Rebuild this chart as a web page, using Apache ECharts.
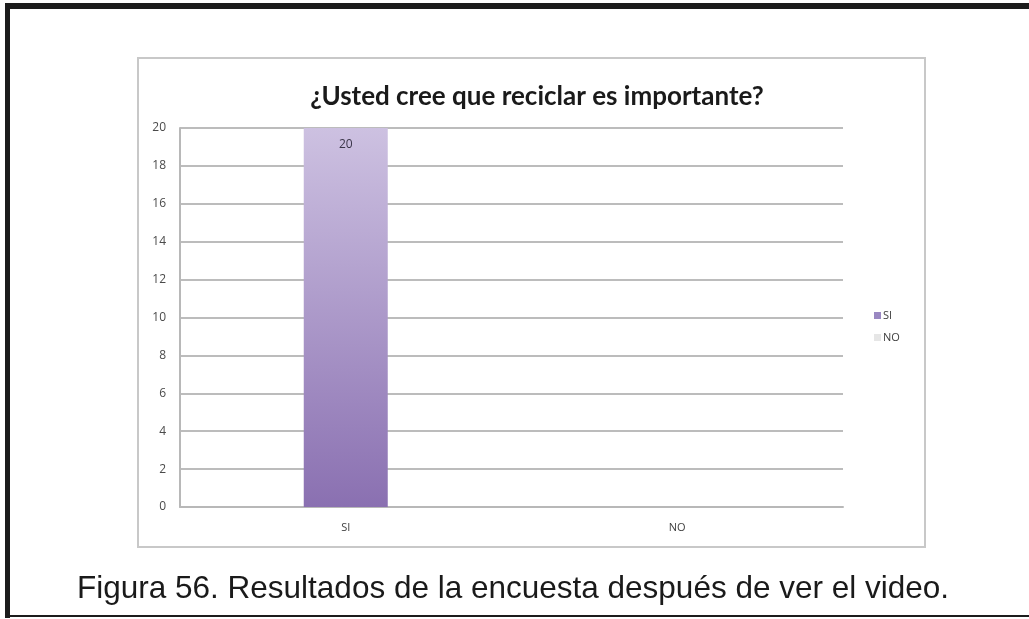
<!DOCTYPE html>
<html>
<head>
<meta charset="utf-8">
<script src="https://cdn.jsdelivr.net/npm/echarts@6/dist/echarts.min.js"></script>
<style>
html,body{margin:0;padding:0;background:#fff;}
#c{width:1029px;height:619px;}
</style>
</head>
<body>
<div id="c"></div>
<script>
var categories = ['SI', 'NO'];
var seriesNames = ['SI', 'NO'];
var siValues = [20, null];
var noValues = [null, 0];
var yTicks = [0, 2, 4, 6, 8, 10, 12, 14, 16, 18, 20];
var titleText = '¿Usted cree que reciclar es importante?';
var captionText = 'Figura 56. Resultados de la encuesta después de ver el video.';

var chart = echarts.init(document.getElementById('c'));
var grad = new echarts.graphic.LinearGradient(0, 0, 0, 1, [
  {offset: 0, color: '#cdc1e1'},
  {offset: 1, color: '#8a70b1'}
]);
chart.setOption({
  animation: false,
  backgroundColor: '#fff',
  title: {
    text: titleText,
    left: 532, top: 79, textAlign: 'center',
    textStyle: {fontFamily: 'Lato', fontWeight: 'bold', fontSize: 26, color: '#1a1a1a'}
  },
  legend: {
    orient: 'vertical', left: 869, top: 305, itemGap: 11,
    itemWidth: 7, itemHeight: 7, icon: 'rect',
    textStyle: {fontFamily: 'Open Sans', fontSize: 11, color: '#404040', padding: [0, 0, 0, -3]},
    data: [
      {name: seriesNames[0], itemStyle: {color: '#9a88c2'}},
      {name: seriesNames[1], itemStyle: {color: '#e6e6e6'}}
    ]
  },
  grid: {left: 180, right: 186, top: 128, bottom: 112},
  xAxis: {
    type: 'category', data: categories,
    axisLine: {lineStyle: {color: '#b8b8b8', width: 2}},
    axisTick: {show: false},
    axisLabel: {fontFamily: 'Open Sans', fontSize: 11, color: '#404040', margin: 15}
  },
  yAxis: {
    type: 'value', min: yTicks[0], max: yTicks[yTicks.length - 1], interval: 2,
    axisLine: {show: true, lineStyle: {color: '#b8b8b8', width: 2}},
    axisTick: {show: false},
    splitLine: {lineStyle: {color: '#bcbcbc', width: 2}},
    axisLabel: {fontFamily: 'Open Sans', fontSize: 12, color: '#4a4a4a', margin: 14}
  },
  series: [
    {
      name: seriesNames[0], type: 'bar', stack: 'a', data: siValues, barWidth: 84,
      itemStyle: {color: grad},
      label: {show: true, position: 'insideTop', distance: 11, fontFamily: 'Open Sans', fontSize: 12, color: '#3a3548'}
    },
    {
      name: seriesNames[1], type: 'bar', stack: 'a', data: noValues, barWidth: 84,
      itemStyle: {color: '#e6e6e6'},
      label: {show: false}
    }
  ],
  graphic: [
    {type: 'rect', shape: {x: 138, y: 58, width: 787, height: 489}, style: {fill: 'none', stroke: '#c8c8c8', lineWidth: 2}, z: -1},
    {type: 'rect', shape: {x: 5, y: 3, width: 1024, height: 6}, style: {fill: '#1c1c1c'}},
    {type: 'rect', shape: {x: 5, y: 3, width: 5, height: 615}, style: {fill: '#1c1c1c'}},
    {type: 'rect', shape: {x: 5, y: 615, width: 1024, height: 2}, style: {fill: '#1c1c1c'}},
    {type: 'text', x: 513, y: 589, style: {text: captionText, fontFamily: 'Liberation Sans', fontSize: 31.5, fill: '#1a1a1a', textAlign: 'center', textVerticalAlign: 'middle'}}
  ]
});
</script>
</body>
</html>
